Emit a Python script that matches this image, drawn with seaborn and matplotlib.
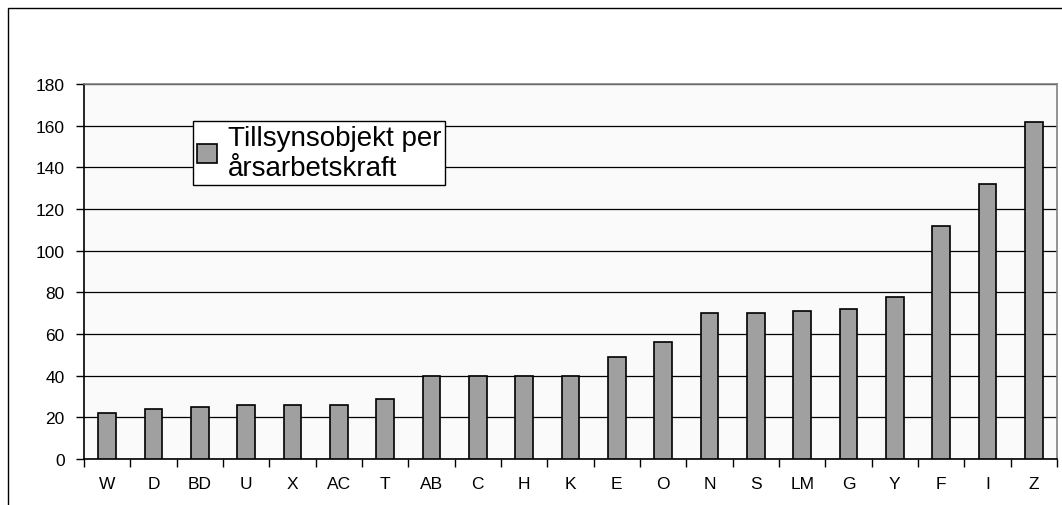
import matplotlib
matplotlib.use("Agg")
import matplotlib.pyplot as plt
import seaborn as sns
import pandas as pd
import numpy as np

categories = ["W", "D", "BD", "U", "X", "AC", "T", "AB", "C", "H", "K",
              "E", "O", "N", "S", "LM", "G", "Y", "F", "I", "Z"]
values = [22, 24, 25, 26, 26, 26, 29, 40, 40, 40, 40,
          49, 56, 70, 70, 71, 72, 78, 112, 132, 162]
series_name = "Tillsynsobjekt per\nårsarbetskraft"
yticks = [0, 20, 40, 60, 80, 100, 120, 140, 160, 180]

df = pd.DataFrame({"kategori": categories, "varde": values})

sns.set_style("white")
plt.rcParams["font.family"] = ["Liberation Sans", "DejaVu Sans"]
plt.rcParams["text.color"] = "black"
plt.rcParams["xtick.color"] = "black"
plt.rcParams["ytick.color"] = "black"

fig = plt.figure(figsize=(10.62, 5.06), dpi=100)
ax = fig.add_axes([84 / 1062, 1 - 460 / 506, (1057 - 84) / 1062, (460 - 85) / 506])

# outer chart frame
fig.add_artist(plt.Rectangle((8 / 1062, -0.1), 1.2, 1 - 9 / 506 + 0.1,
                             transform=fig.transFigure, fill=False,
                             edgecolor="black", linewidth=1))

ax.set_facecolor("#fafafa")
sns.barplot(data=df, x="kategori", y="varde", color="#a0a0a0", edgecolor="black",
            linewidth=1.2, width=0.38, saturation=1, label=series_name, ax=ax, zorder=3)

ax.set_ylim(0, 180)
ax.set_yticks(yticks)
ax.set_xlim(-0.5, len(categories) - 0.5)
ax.yaxis.grid(True, color="black", linewidth=0.9, zorder=0)
ax.set_axisbelow(True)

ax.set_xticks(np.arange(len(categories)))
ax.set_xticklabels(categories)
ax.set_xticks(np.arange(len(categories) + 1) - 0.5, minor=True)
ax.tick_params(axis="x", which="major", bottom=False, length=0, pad=12,
               labelsize=12.5, labelcolor="black")
ax.tick_params(axis="x", which="minor", bottom=True, length=6, width=1,
               color="black", direction="out")
ax.tick_params(axis="y", left=True, length=6, width=1, color="black",
               direction="out", labelsize=12.5, labelcolor="black", pad=8)
ax.set_xlabel("")
ax.set_ylabel("")

for side in ["left", "bottom"]:
    ax.spines[side].set_color("black")
    ax.spines[side].set_linewidth(1.2)
for side in ["top", "right"]:
    ax.spines[side].set_color("#808080")
    ax.spines[side].set_linewidth(1.2)

leg = ax.legend(loc="upper left", bbox_to_anchor=((193 - 84) / 973, (460 - 122) / 375),
                borderaxespad=0, fancybox=False, framealpha=1, edgecolor="black",
                fontsize=20, handlelength=0.7, handleheight=0.7, handletextpad=0.4,
                borderpad=0.15, labelspacing=0.0)
leg.get_frame().set_linewidth(1)
for t in leg.get_texts():
    t.set_color("black")

fig.savefig("out.png", dpi=100)
